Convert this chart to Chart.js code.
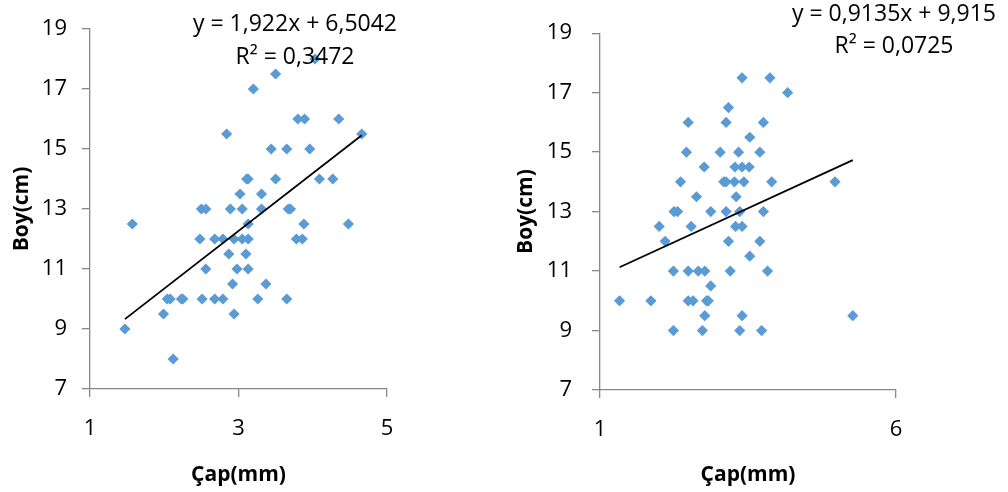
<!DOCTYPE html>
<html>
<head>
<meta charset="utf-8">
<script src="https://cdn.jsdelivr.net/npm/chart.js@4/dist/chart.umd.min.js"></script>
<style>
  html, body { margin: 0; padding: 0; background: #fff; }
  #wrap { position: relative; width: 1008px; height: 492px; overflow: hidden; }
  .panel { position: absolute; top: 0; width: 504px; height: 492px; }
</style>
</head>
<body>
<div id="wrap">
  <div class="panel" style="left:0"><canvas id="left" width="504" height="492"></canvas></div>
  <div class="panel" style="left:504px"><canvas id="right" width="504" height="492"></canvas></div>
</div>
<script>
// Left panel: diameter (mm) vs length (cm)
const capLeft = [
  4.03, 3.50, 3.20,
  3.80, 3.89, 4.35,
  2.84, 4.66,
  3.44, 3.65, 3.96,
  3.11, 3.13, 3.50, 4.09, 4.27,
  3.02, 3.31,
  2.50, 2.56, 2.89, 3.05, 3.31, 3.67, 3.70,
  1.57, 3.13, 3.88, 4.48,
  2.48, 2.68, 2.79, 2.94, 3.05, 3.13, 3.78, 3.86,
  2.87, 3.10,
  2.56, 2.98, 3.13,
  2.92, 3.37,
  2.04, 2.08, 2.23, 2.25, 2.51, 2.68, 2.79, 3.26, 3.65,
  1.99, 2.94,
  1.47,
  2.12
];
const boyLeft = [
  18, 17.5, 17,
  16, 16, 16,
  15.5, 15.5,
  15, 15, 15,
  14, 14, 14, 14, 14,
  13.5, 13.5,
  13, 13, 13, 13, 13, 13, 13,
  12.5, 12.5, 12.5, 12.5,
  12, 12, 12, 12, 12, 12, 12, 12,
  11.5, 11.5,
  11, 11, 11,
  10.5, 10.5,
  10, 10, 10, 10, 10, 10, 10, 10, 10,
  9.5, 9.5,
  9,
  8
];
const trendLeft = { slope: 1.922, intercept: 6.5042 };
const labelsLeft = ['y = 1,922x + 6,5042', 'R² = 0,3472'];
const xTicksLeft = [1, 3, 5];

// Right panel
const capRight = [
  3.40, 3.87,
  4.17,
  3.17,
  2.49, 3.13, 3.76,
  3.53,
  2.46, 3.03, 3.34, 3.70,
  2.76, 3.28, 3.40, 3.52,
  2.36, 3.09, 3.13, 3.27, 3.43, 3.90, 4.97,
  2.63, 3.30,
  2.25, 2.31, 2.87, 3.13, 3.36, 3.76,
  2.00, 2.54, 3.29, 3.40,
  2.10, 3.17, 3.70,
  3.53,
  2.24, 2.49, 2.66, 2.77, 3.20, 3.83,
  2.87,
  1.33, 1.86, 2.49, 2.57, 2.80, 2.83,
  2.77, 3.40, 5.27,
  2.24, 2.73, 3.36, 3.73
];
const boyRight = [
  17.5, 17.5,
  17,
  16.5,
  16, 16, 16,
  15.5,
  15, 15, 15, 15,
  14.5, 14.5, 14.5, 14.5,
  14, 14, 14, 14, 14, 14, 14,
  13.5, 13.5,
  13, 13, 13, 13, 13, 13,
  12.5, 12.5, 12.5, 12.5,
  12, 12, 12,
  11.5,
  11, 11, 11, 11, 11, 11,
  10.5,
  10, 10, 10, 10, 10, 10,
  9.5, 9.5, 9.5,
  9, 9, 9, 9
];
const trendRight = { slope: 0.9135, intercept: 9.915 };
const labelsRight = ['y = 0,9135x + 9,915', 'R² = 0,0725'];
const xTicksRight = [1, 6];

const yTicks = [7, 9, 11, 13, 15, 17, 19];
const xTitle = 'Çap(mm)';
const yTitle = 'Boy(cm)';

const AXIS = '#888888';
const MARK = '#5B9BD5';
const FONT = 'Open Sans';

// White plot area
const plotFill = {
  id: 'plotFill',
  beforeDraw(chart) {
    const a = chart.chartArea, ctx = chart.ctx;
    ctx.save();
    ctx.fillStyle = '#ffffff';
    ctx.fillRect(a.left, a.top, a.right - a.left, a.bottom - a.top);
    ctx.restore();
  }
};

// Trendline equation text
const equation = {
  id: 'equation',
  afterDatasetsDraw(chart, args, opts) {
    const ctx = chart.ctx;
    ctx.save();
    ctx.font = opts.size + 'px "' + FONT + '"';
    ctx.fillStyle = '#000';
    ctx.textAlign = 'center';
    ctx.textBaseline = 'alphabetic';
    opts.lines.forEach((t, i) => ctx.fillText(t, opts.x, opts.baselines[i]));
    ctx.restore();
  }
};

function trendPoints(xs, fit) {
  const lo = Math.min(...xs), hi = Math.max(...xs);
  return [lo, hi].map(x => ({ x, y: fit.slope * x + fit.intercept }));
}

function makeChart(id, cfg) {
  const pts = cfg.xs.map((x, i) => ({ x, y: cfg.ys[i] }));
  return new Chart(document.getElementById(id), {
    type: 'scatter',
    data: {
      datasets: [
        {
          data: pts,
          pointStyle: 'rectRot',
          pointRadius: 5.6,
          pointBackgroundColor: MARK,
          pointBorderColor: MARK,
          pointBorderWidth: 0,
          order: 2
        },
        {
          type: 'line',
          data: trendPoints(cfg.xs, cfg.fit),
          borderColor: '#000',
          borderWidth: 1.8,
          pointRadius: 0,
          fill: false,
          order: 1
        }
      ]
    },
    options: {
      responsive: false,
      animation: false,
      devicePixelRatio: 1,
      layout: { padding: { top: cfg.top, right: cfg.right, left: 0, bottom: 0 } },
      plugins: {
        legend: { display: false },
        tooltip: { enabled: false },
        equation: { lines: cfg.labels, x: cfg.eqX, baselines: cfg.eqY, size: 23 }
      },
      scales: {
        x: {
          type: 'linear',
          min: cfg.xTicks[0],
          max: cfg.xTicks[cfg.xTicks.length - 1],
          afterBuildTicks(s) { s.ticks = cfg.xTicks.map(v => ({ value: v })); },
          afterFit(s) { s.height = cfg.xH; },
          grid: { drawOnChartArea: false, color: AXIS, tickLength: 8, lineWidth: 1.3 },
          border: { color: AXIS, width: 1.3 },
          ticks: { color: '#000', font: { family: FONT, size: 22 }, padding: 19, maxRotation: 0 },
          title: { display: true, text: xTitle, color: '#000',
                   font: { family: FONT, size: 21, weight: 'bold' }, padding: { top: 0, bottom: 4 } }
        },
        y: {
          type: 'linear',
          min: 7,
          max: 19,
          afterBuildTicks(s) { s.ticks = yTicks.map(v => ({ value: v })); },
          afterFit(s) { s.width = cfg.yW; },
          grid: { drawOnChartArea: false, color: AXIS, tickLength: 8, lineWidth: 1.3 },
          border: { color: AXIS, width: 1.3 },
          ticks: { color: '#000', font: { family: FONT, size: 22 }, padding: cfg.yPad },
          title: { display: true, text: yTitle, color: '#000',
                   font: { family: FONT, size: 21, weight: 'bold' }, padding: { top: 9, bottom: 0 } }
        }
      }
    },
    plugins: [plotFill, equation]
  });
}

makeChart('left', {
  xs: capLeft, ys: boyLeft, fit: trendLeft, labels: labelsLeft, xTicks: xTicksLeft,
  top: 29, right: 117, xH: 103, yW: 90, yPad: 15, eqX: 295, eqY: [31, 64]
});
makeChart('right', {
  xs: capRight, ys: boyRight, fit: trendRight, labels: labelsRight, xTicks: xTicksRight,
  top: 30, right: 112, xH: 102, yW: 96, yPad: 20, eqX: 390, eqY: [21, 53]
});
</script>
</body>
</html>
